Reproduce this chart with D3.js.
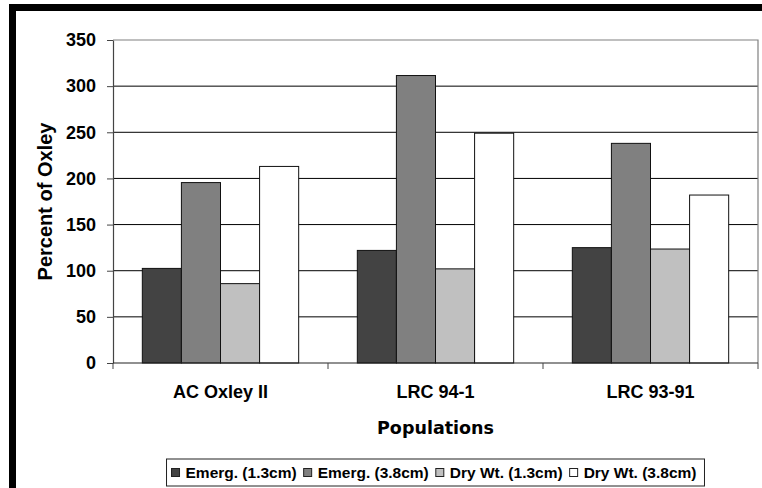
<!DOCTYPE html>
<html>
<head>
<meta charset="utf-8">
<script src="https://cdn.jsdelivr.net/npm/d3@7/dist/d3.min.js"></script>
<style>
  html, body { margin: 0; padding: 0; background: #fff; }
  svg { display: block; }
</style>
</head>
<body>
<svg id="chart" width="762" height="488"></svg>
<script>
// Populations and the four measured traits, as percent of Oxley
const categories = ["AC Oxley II", "LRC 94-1", "LRC 93-91"];
const seriesNames = ["Emerg. (1.3cm)", "Emerg. (3.8cm)", "Dry Wt. (1.3cm)", "Dry Wt. (3.8cm)"];
const emerg13 = [102.5, 122, 125];
const emerg38 = [195.5, 311.5, 238];
const dry13 = [86, 102, 123.5];
const dry38 = [213, 249, 182];
const yTicks = [0, 50, 100, 150, 200, 250, 300, 350];
const seriesFill = ["#434343", "#808080", "#c0c0c0", "#ffffff"];

const seriesValues = [emerg13, emerg38, dry13, dry38];
const rows = categories.map((c, i) => ({
  category: c,
  values: seriesNames.map((s, k) => ({ series: s, k, value: seriesValues[k][i] }))
}));

const svg = d3.select("#chart");
const plot = { left: 113, right: 758, top: 40, bottom: 363 };
const axisFont = "'Liberation Sans', Arial, sans-serif";

// Outer frame (thick black edges)
svg.append("rect").attr("x", 9).attr("y", 4).attr("width", 753).attr("height", 7).attr("fill", "#000");
svg.append("rect").attr("x", 9).attr("y", 4).attr("width", 7).attr("height", 484).attr("fill", "#000");

const x0 = d3.scaleBand().domain(categories).range([plot.left, plot.right]).paddingInner(0).paddingOuter(0);
// Excel-style gap width of 150%: bar width = band / (4 + 1.5)
const barW = x0.bandwidth() / (seriesNames.length + 1.5);
const x1 = d3.scaleBand().domain(seriesNames)
  .range([0, barW * seriesNames.length]);
const y = d3.scaleLinear().domain([0, 350]).range([plot.bottom, plot.top]);

// Gridlines
svg.append("g").selectAll("line").data(yTicks.filter(t => t > 0 && t < 350)).join("line")
  .attr("x1", plot.left).attr("x2", plot.right)
  .attr("y1", d => y(d)).attr("y2", d => y(d))
  .attr("stroke", "#000").attr("stroke-width", 1);

// Plot area border (top and right)
svg.append("path")
  .attr("d", `M${plot.left},${y(350)}H${plot.right}V${plot.bottom}`)
  .attr("fill", "none").attr("stroke", "#808080").attr("stroke-width", 1.2);

// Bars
const groups = svg.append("g").selectAll("g").data(rows).join("g")
  .attr("transform", d => `translate(${x0(d.category) + (x0.bandwidth() - barW * seriesNames.length) / 2},0)`);
groups.selectAll("rect").data(d => d.values).join("rect")
  .attr("x", d => x1(d.series))
  .attr("width", x1.bandwidth())
  .attr("y", d => y(d.value))
  .attr("height", d => y(0) - y(d.value))
  .attr("fill", d => seriesFill[d.k])
  .attr("stroke", "#111").attr("stroke-width", 1);

// Y axis
const yAxis = svg.append("g").attr("transform", `translate(${plot.left},0)`)
  .call(d3.axisLeft(y).tickValues(yTicks).tickSize(6).tickPadding(11).tickSizeOuter(0));
yAxis.select(".domain").attr("stroke", "#444").attr("stroke-width", 1.2);
yAxis.selectAll(".tick line").attr("stroke", "#444");
yAxis.selectAll(".tick text")
  .attr("font-family", axisFont).attr("font-weight", "bold").attr("font-size", 18)
  .attr("fill", "#000");

// X axis: ticks at category boundaries
const xAxis = svg.append("g").attr("transform", `translate(0,${plot.bottom})`);
xAxis.append("line").attr("x1", plot.left).attr("x2", plot.right).attr("stroke", "#222").attr("stroke-width", 1.2);
const bounds = categories.map(c => x0(c)).concat([plot.right]);
xAxis.selectAll("line.b").data(bounds).join("line").attr("class", "b")
  .attr("x1", d => d).attr("x2", d => d).attr("y1", 0).attr("y2", 6)
  .attr("stroke", "#444");
xAxis.selectAll("text").data(categories).join("text")
  .attr("x", d => x0(d) + x0.bandwidth() / 2).attr("y", 35)
  .attr("text-anchor", "middle")
  .attr("font-family", axisFont).attr("font-weight", "bold").attr("font-size", 18)
  .text(d => d);

// Axis titles
svg.append("text")
  .attr("x", (plot.left + plot.right) / 2).attr("y", 434)
  .attr("text-anchor", "middle")
  .attr("font-family", "'DejaVu Sans', sans-serif").attr("font-weight", "bold").attr("font-size", 17.5)
  .text("Populations");
svg.append("text")
  .attr("transform", `translate(52,${(plot.top + plot.bottom) / 2}) rotate(-90)`)
  .attr("text-anchor", "middle")
  .attr("font-family", axisFont).attr("font-weight", "bold").attr("font-size", 20)
  .text("Percent of Oxley");

// Legend
const legend = svg.append("g");
const box = legend.append("rect").attr("fill", "#fff").attr("stroke", "#222").attr("stroke-width", 1);
let cx = 0;
const items = [];
seriesNames.forEach((s, k) => {
  const sw = legend.append("rect").attr("width", 8).attr("height", 8)
    .attr("fill", seriesFill[k]).attr("stroke", "#222").attr("stroke-width", 1);
  const t = legend.append("text").attr("font-family", axisFont).attr("font-weight", "bold")
    .attr("font-size", 15.5).text(s);
  const w = t.node().getComputedTextLength();
  items.push({ sw, t, x: cx });
  cx += 8 + 6 + w + (k < seriesNames.length - 1 ? 7 : 0);
});
const padL = 5, padR = 8;
const total = padL + cx + padR;
const bx = (plot.left + plot.right) / 2 - total / 2;
box.attr("x", bx).attr("y", 459).attr("width", total).attr("height", 27);
items.forEach(it => {
  it.sw.attr("x", bx + padL + it.x).attr("y", 468.5);
  it.t.attr("x", bx + padL + it.x + 14).attr("y", 477.5);
});
</script>
</body>
</html>
